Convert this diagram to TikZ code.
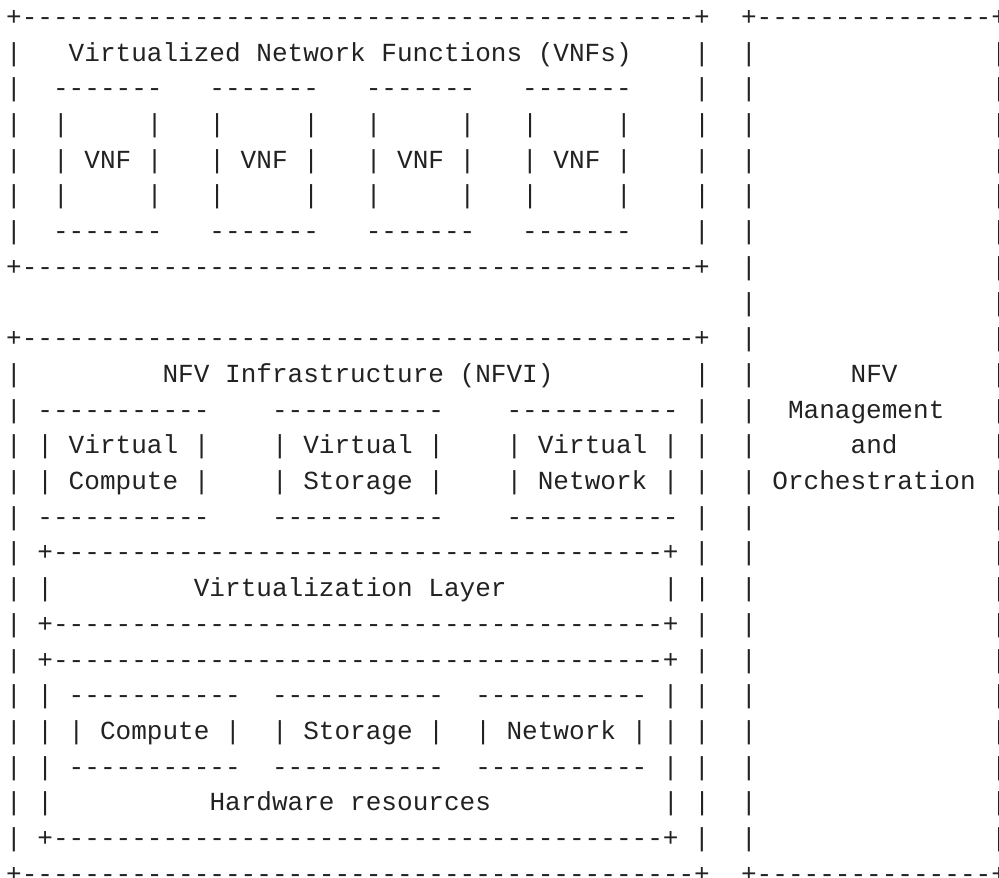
\documentclass[tikz,border=0pt]{standalone}
\usepackage{fontspec}
\setmonofont{Liberation Mono}
\usetikzlibrary{positioning}
\definecolor{asciiink}{HTML}{222222}
\newcommand\colsp[1]{\kern#1\fontcharwd\font`\M\relax}

\begin{document}
\begin{tikzpicture}[node distance=0pt,
	asciirow/.style={font=\ttfamily\fontsize{13.03}{17.85}\selectfont,text=asciiink,inner sep=0pt,outer sep=0pt,text height=12.5pt,text depth=5.35pt}]
		\useasboundingbox (0,0) rectangle (499.5pt,-438.5pt);
		\clip (0,0) rectangle (499.5pt,-438.5pt);

		\node[asciirow,anchor=base west] at (3.1pt,-12.7pt)	(00)	{+-------------------------------------------+\colsp{2}+---------------+};
		\node[asciirow,below right=of 00.south west]	(01)	{|\colsp{3}Virtualized Network Functions (VNFs)\colsp{4}|\colsp{2}|\colsp{15}|};
		\node[asciirow,below right=of 01.south west]	(02)	{|\colsp{2}-------\colsp{3}-------\colsp{3}-------\colsp{3}-------\colsp{4}|\colsp{2}|\colsp{15}|};
		\node[asciirow,below right=of 02.south west]	(03)	{|\colsp{2}|\colsp{5}|\colsp{3}|\colsp{5}|\colsp{3}|\colsp{5}|\colsp{3}|\colsp{5}|\colsp{4}|\colsp{2}|\colsp{15}|};
		\node[asciirow,below right=of 03.south west]	(04)	{|\colsp{2}| VNF |\colsp{3}| VNF |\colsp{3}| VNF |\colsp{3}| VNF |\colsp{4}|\colsp{2}|\colsp{15}|};
		\node[asciirow,below right=of 04.south west]	(05)	{|\colsp{2}|\colsp{5}|\colsp{3}|\colsp{5}|\colsp{3}|\colsp{5}|\colsp{3}|\colsp{5}|\colsp{4}|\colsp{2}|\colsp{15}|};
		\node[asciirow,below right=of 05.south west]	(06)	{|\colsp{2}-------\colsp{3}-------\colsp{3}-------\colsp{3}-------\colsp{4}|\colsp{2}|\colsp{15}|};
		\node[asciirow,below right=of 06.south west]	(07)	{+-------------------------------------------+\colsp{2}|\colsp{15}|};
		\node[asciirow,below right=of 07.south west]	(08)	{\colsp{47}|\colsp{15}|};
		\node[asciirow,below right=of 08.south west]	(09)	{+-------------------------------------------+\colsp{2}|\colsp{15}|};

		\node[asciirow,below right=of 09.south west]	(10)	{|\colsp{9}NFV Infrastructure (NFVI)\colsp{9}|\colsp{2}|\colsp{6}NFV\colsp{6}|};
		\node[asciirow,below right=of 10.south west]	(11)	{| -----------\colsp{4}-----------\colsp{4}----------- |\colsp{2}|\colsp{2}Management\colsp{3}|};
		\node[asciirow,below right=of 11.south west]	(12)	{| | Virtual |\colsp{4}| Virtual |\colsp{4}| Virtual | |\colsp{2}|\colsp{6}and\colsp{6}|};
		\node[asciirow,below right=of 12.south west]	(13)	{| | Compute |\colsp{4}| Storage |\colsp{4}| Network | |\colsp{2}| Orchestration |};
		\node[asciirow,below right=of 13.south west]	(14)	{| -----------\colsp{4}-----------\colsp{4}----------- |\colsp{2}|\colsp{15}|};
		\node[asciirow,below right=of 14.south west]	(15)	{| +---------------------------------------+ |\colsp{2}|\colsp{15}|};
		\node[asciirow,below right=of 15.south west]	(16)	{| |\colsp{9}Virtualization Layer\colsp{10}| |\colsp{2}|\colsp{15}|};
		\node[asciirow,below right=of 16.south west]	(17)	{| +---------------------------------------+ |\colsp{2}|\colsp{15}|};
		\node[asciirow,below right=of 17.south west]	(18)	{| +---------------------------------------+ |\colsp{2}|\colsp{15}|};
		\node[asciirow,below right=of 18.south west]	(19)	{| | -----------\colsp{2}-----------\colsp{2}----------- | |\colsp{2}|\colsp{15}|};
		\node[asciirow,below right=of 19.south west]	(20)	{| | | Compute |\colsp{2}| Storage |\colsp{2}| Network | | |\colsp{2}|\colsp{15}|};
		\node[asciirow,below right=of 20.south west]	(21)	{| | -----------\colsp{2}-----------\colsp{2}----------- | |\colsp{2}|\colsp{15}|};
		\node[asciirow,below right=of 21.south west]	(22)	{| |\colsp{10}Hardware resources\colsp{11}| |\colsp{2}|\colsp{15}|};
		\node[asciirow,below right=of 22.south west]	(23)	{| +---------------------------------------+ |\colsp{2}|\colsp{15}|};
		\node[asciirow,below right=of 23.south west]	(24)	{+-------------------------------------------+\colsp{2}+---------------+};
	\end{tikzpicture}
\end{document}
